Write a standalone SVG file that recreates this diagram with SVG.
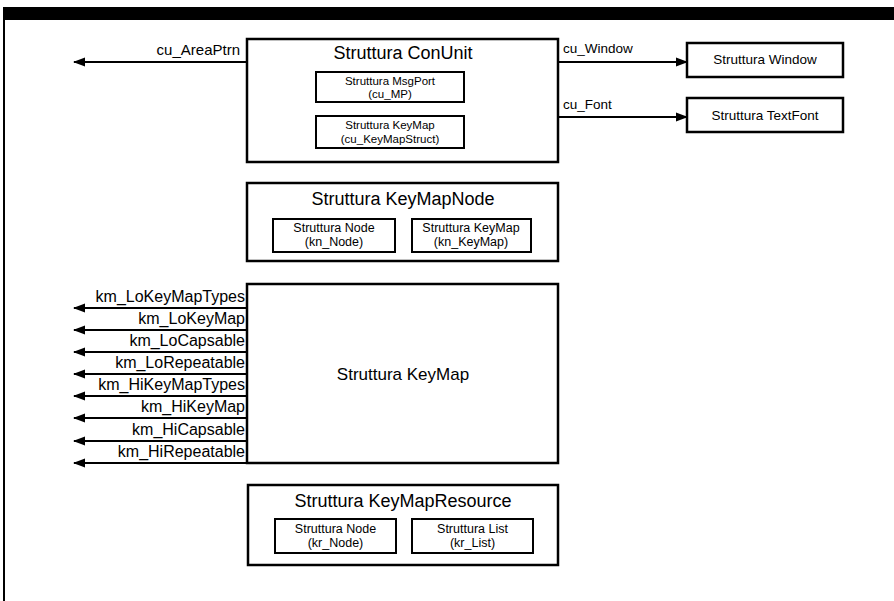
<svg xmlns="http://www.w3.org/2000/svg" width="894" height="601" viewBox="0 0 894 601">
<defs>
<style>
text{font-family:"Liberation Sans",Arial,sans-serif;fill:#000}
.box{fill:#fff;stroke:#000;stroke-width:2.5}
.ibox{fill:#fff;stroke:#000;stroke-width:2}
.conn{stroke:#000;stroke-width:2;fill:none;marker-end:url(#ah)}
.t{font-size:18px;text-anchor:middle}
.c{text-anchor:middle}
.s{font-size:11.5px;text-anchor:middle}
.m{font-size:12.5px;text-anchor:middle}
.lab{font-size:16px;text-anchor:end}
</style>
<marker id="ah" markerUnits="userSpaceOnUse" markerWidth="12" markerHeight="10" refX="11" refY="4.5" orient="auto" viewBox="0 0 12 9">
<path d="M0,0 L12,4.5 L0,9 z" fill="#000"/>
</marker>
</defs>
<rect id="frame-top" x="3" y="7" width="891" height="13" fill="#000"/>
<line x1="4" y1="20" x2="4" y2="601" stroke="#000" stroke-width="2"/>

<g id="conunit">
<rect class="box" x="247" y="39" width="311" height="123"/>
<text class="t" x="403" y="59">Struttura ConUnit</text>
<rect class="ibox" x="316" y="72" width="148" height="30"/>
<text class="s" x="390" y="85">Struttura MsgPort</text>
<text class="s" x="390" y="98">(cu_MP)</text>
<rect class="ibox" x="316" y="116" width="148" height="32"/>
<text class="s" x="390" y="129">Struttura KeyMap</text>
<text class="s" x="390" y="143">(cu_KeyMapStruct)</text>
</g>

<g id="window">
<rect class="box" x="687" y="43" width="156" height="34"/>
<text class="c" x="765" y="64" font-size="13.5">Struttura Window</text>
</g>

<g id="textfont">
<rect class="box" x="687" y="98" width="156" height="34"/>
<text class="c" x="765" y="120" font-size="13.5">Struttura TextFont</text>
</g>

<g id="keymapnode">
<rect class="box" x="247" y="183" width="311" height="78"/>
<text class="t" x="403" y="205">Struttura KeyMapNode</text>
<rect class="ibox" x="273" y="219" width="122" height="33"/>
<text class="m" x="334" y="232">Struttura Node</text>
<text class="m" x="334" y="246">(kn_Node)</text>
<rect class="ibox" x="412" y="219" width="119" height="33"/>
<text class="m" x="471" y="232">Struttura KeyMap</text>
<text class="m" x="471" y="246">(kn_KeyMap)</text>
</g>

<g id="keymap">
<rect class="box" x="247" y="284" width="311" height="179"/>
<text class="c" x="403" y="380" font-size="17">Struttura KeyMap</text>
</g>

<g id="keymapresource">
<rect class="box" x="248" y="485" width="310" height="80"/>
<text class="t" x="403" y="507">Struttura KeyMapResource</text>
<rect class="ibox" x="275" y="519" width="121" height="34"/>
<text class="m" x="335.5" y="533">Struttura Node</text>
<text class="m" x="335.5" y="547">(kr_Node)</text>
<rect class="ibox" x="412" y="519" width="121" height="34"/>
<text class="m" x="472.5" y="533">Struttura List</text>
<text class="m" x="472.5" y="547">(kr_List)</text>
</g>

<g id="connectors">
<line class="conn" x1="247" y1="62" x2="74" y2="62"/>
<line class="conn" x1="558" y1="62" x2="687" y2="62"/>
<line class="conn" x1="558" y1="117" x2="687" y2="117"/>
<line class="conn" x1="247" y1="308" x2="74" y2="308"/>
<line class="conn" x1="247" y1="330" x2="74" y2="330"/>
<line class="conn" x1="247" y1="352" x2="74" y2="352"/>
<line class="conn" x1="247" y1="374" x2="74" y2="374"/>
<line class="conn" x1="247" y1="396" x2="74" y2="396"/>
<line class="conn" x1="247" y1="418" x2="74" y2="418"/>
<line class="conn" x1="247" y1="441" x2="74" y2="441"/>
<line class="conn" x1="247" y1="463" x2="74" y2="463"/>
<text x="240" y="55" font-size="15" text-anchor="end">cu_AreaPtrn</text>
<text x="563" y="53" font-size="13.5">cu_Window</text>
<text x="563" y="109" font-size="13.5">cu_Font</text>
<text class="lab" x="245" y="302">km_LoKeyMapTypes</text>
<text class="lab" x="245" y="324">km_LoKeyMap</text>
<text class="lab" x="245" y="346">km_LoCapsable</text>
<text class="lab" x="245" y="368">km_LoRepeatable</text>
<text class="lab" x="245" y="390">km_HiKeyMapTypes</text>
<text class="lab" x="245" y="412">km_HiKeyMap</text>
<text class="lab" x="245" y="435">km_HiCapsable</text>
<text class="lab" x="245" y="457">km_HiRepeatable</text>
</g>
</svg>
